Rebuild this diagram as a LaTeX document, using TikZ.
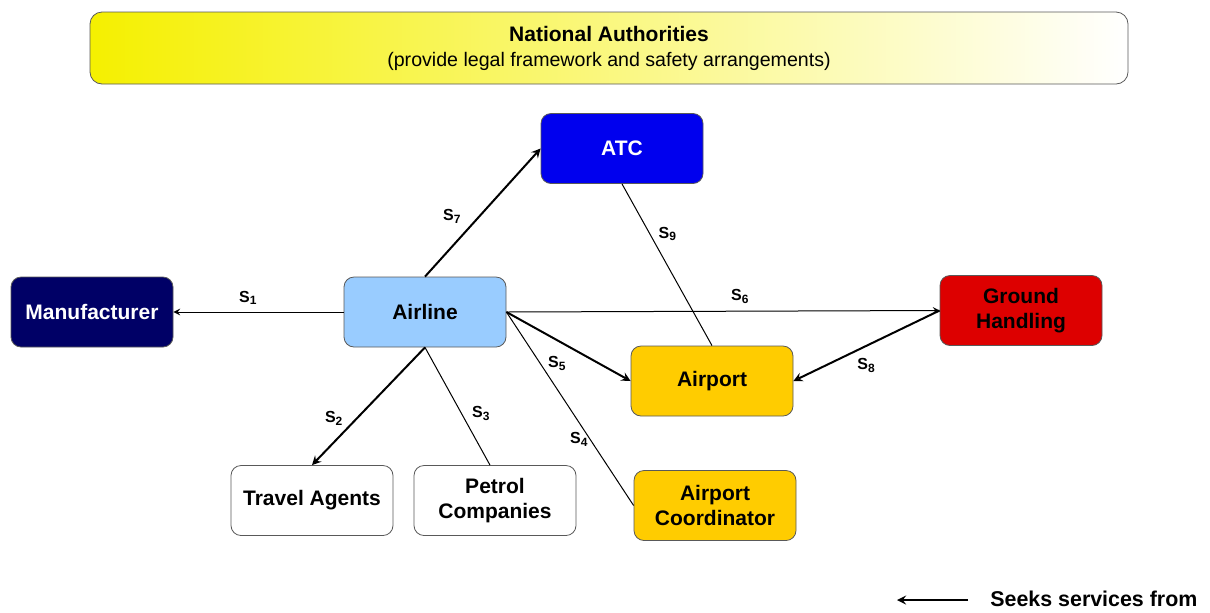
\documentclass[tikz,border=0pt]{standalone}
\usepackage{fontspec}
\setmainfont{Liberation Sans}
\usetikzlibrary{arrows}

\definecolor{navyfill}{RGB}{0,0,102}
\definecolor{atcblue}{RGB}{0,0,238}
\definecolor{airlineblue}{RGB}{153,204,255}
\definecolor{groundred}{RGB}{221,0,0}
\definecolor{airportyellow}{RGB}{255,204,0}
\definecolor{authyellow}{RGB}{245,240,0}

\newcommand{\slab}[1]{\textbf{S\textsubscript{#1}}}

\begin{document}
\begin{tikzpicture}[x=0.5pt,y=-0.5pt]
	\tikzstyle{mybox}=[draw=gray!70!black, rounded corners=5pt, align=center, inner sep=0pt, minimum width=81pt, minimum height=35pt, font=\fontsize{10.5}{12.5}\selectfont\bfseries]
    % thin and thick connectors
	\tikzstyle{myline}=[line width=0.5pt]
	\tikzstyle{myarrow}=[->, >=stealth, line width=0.5pt]
	\tikzstyle{mythick}=[->, >=stealth, line width=1pt]

	\tikzstyle{mydesc}=[font=\fontsize{8}{9}\selectfont, inner sep=0pt]

	\useasboundingbox (0,0) rectangle (1210,612);

	\node[mybox, minimum width=519pt, minimum height=36pt, rounded corners=6pt, left color=authyellow, middle color=authyellow!20, right color=white, font=\fontsize{10.5}{12.5}\selectfont] (auth) at (609,48) {\textbf{National Authorities}\\{\fontsize{9.8}{11.5}\selectfont (provide legal framework and safety arrangements)}};

	\node[mybox, fill=atcblue, text=white] (atc) at (622,148.5) {ATC};
	\node[mybox, fill=navyfill, text=white] (manu) at (92,312) {Manufacturer};
	\node[mybox, fill=airlineblue] (airline) at (425,312) {Airline};
	\node[mybox, fill=groundred] (ground) at (1021,310.5) {Ground\\Handling};
	\node[mybox, fill=airportyellow] (airport) at (712,381) {Airport};
	\node[mybox, fill=white] (travel) at (312,500.5) {Travel Agents};
	\node[mybox, fill=white] (petrol) at (495,500.5) {Petrol\\Companies};
	\node[mybox, fill=airportyellow] (coord) at (715,505.5) {Airport\\Coordinator};

	\draw[myarrow] (airline.west) -- (manu.east) node[mydesc, pos=0.56, yshift=7pt] {\slab{1}};
	\draw[mythick] (airline.south) -- (travel.north) node[mydesc, pos=0.6, xshift=-11.5pt] {\slab{2}};
	\draw[myline] (airline.south) -- ([xshift=-2.5pt] petrol.north) node[mydesc, pos=0.56, xshift=10pt] {\slab{3}};
	\draw[myline] (airline.east) -- (coord.west) node[mydesc, pos=0.66, xshift=-5.5pt] {\slab{4}};
	\draw[mythick] (airline.east) -- (airport.west) node[mydesc, pos=0.41, yshift=-11.5pt] {\slab{5}};
	\draw[myarrow] (airline.east) -- (ground.west) node[mydesc, pos=0.54, yshift=7.5pt] {\slab{6}};
	\draw[mythick] (airline.north) -- (atc.west) node[mydesc, pos=0.47, xshift=-13.5pt] {\slab{7}};
	\draw[mythick] (ground.west) -- (airport.east) node[mydesc, pos=0.5, yshift=-10pt] {\slab{8}};
	\draw[myline] (atc.south) -- (airport.north) node[mydesc, pos=0.31, xshift=9pt] {\slab{9}};

	% legend
	\node[anchor=west, inner sep=0pt, font=\fontsize{10.7}{12}\selectfont\bfseries] (legtext) at (990,599) {Seeks services from};
	\coordinate (legfrom) at (968,600);
	\coordinate (legto) at (897,600);
	\draw[mythick] (legfrom) -- (legto);
\end{tikzpicture}
\end{document}
